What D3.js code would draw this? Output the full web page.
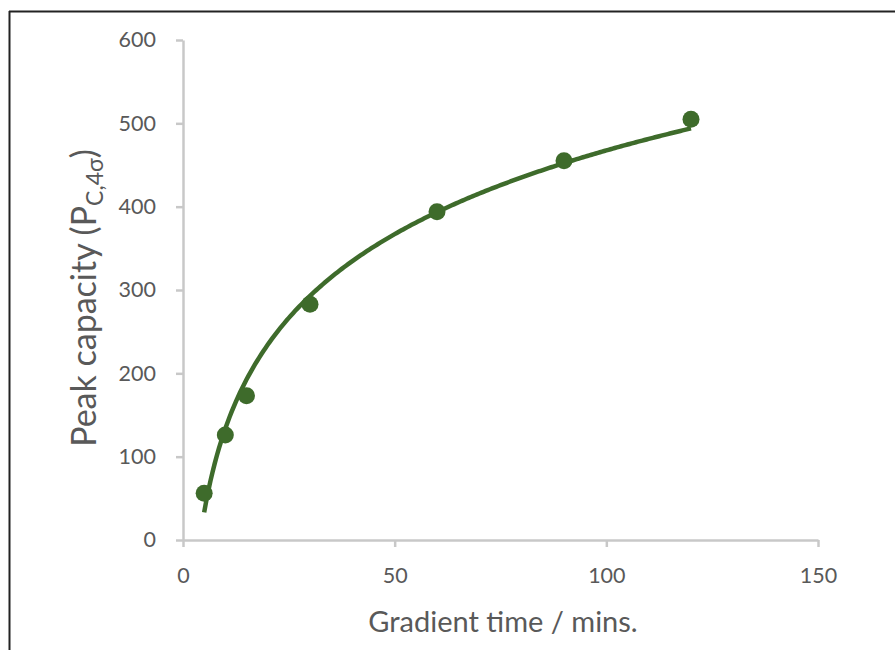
<!DOCTYPE html>
<html>
<head>
<meta charset="utf-8">
<script src="https://cdn.jsdelivr.net/npm/d3@7"></script>
<style>
    body { margin: 0; background: #fff; }
    text { font-family: Lato, "Open Sans", sans-serif; fill: #595959; }
</style>
</head>
<body>
<div id="chart"></div>
<script>

// data
let gradientTimes = [5, 10, 15, 30, 60, 90, 120];
let peakCapacity = [56, 126, 173, 283, 394, 455, 505];
let xTicks = [0, 50, 100, 150];
let yTicks = [0, 100, 200, 300, 400, 500, 600];

let width = 895, height = 650;
let margin = {top: 40, right: 77, bottom: 110, left: 183};

let svg = d3.select("#chart").append("svg")
    .attr("width", width)
    .attr("height", height);

// frame lines (top + left only)
svg.append("line")
    .attr("x1", 9).attr("x2", width).attr("y1", 11.5).attr("y2", 11.5)
    .attr("stroke", "#222").attr("stroke-width", 2);
svg.append("line")
    .attr("x1", 9.5).attr("x2", 9.5).attr("y1", 11).attr("y2", height)
    .attr("stroke", "#222").attr("stroke-width", 2);

let x = d3.scaleLinear().domain([0, 150]).range([margin.left, width - margin.right]);
let y = d3.scaleLinear().domain([0, 600]).range([height - margin.bottom, margin.top]);

// axes
let xAxis = svg.append("g")
    .attr("transform", `translate(0, ${y(0)})`)
    .call(d3.axisBottom(x).tickValues(xTicks).tickSize(7).tickPadding(21).tickSizeOuter(0));

let yAxis = svg.append("g")
    .attr("transform", `translate(${x(0)}, 0)`)
    .call(d3.axisLeft(y).tickValues(yTicks).tickSize(7).tickPadding(20).tickSizeOuter(0));

[xAxis, yAxis].forEach(g => {
    g.select(".domain").attr("stroke", "#c8c8c8").attr("stroke-width", 2.5);
    g.selectAll(".tick line").attr("stroke", "#c8c8c8").attr("stroke-width", 2.5);
    g.selectAll(".tick text")
        .style("font-family", "Lato, 'Open Sans', sans-serif")
        .style("font-size", "21.5px")
        .attr("fill", "#595959");
});

// logarithmic trendline, least squares fit on ln(x)
let lx = gradientTimes.map(d => Math.log(d));
let mx = d3.mean(lx), my = d3.mean(peakCapacity);
let sxy = d3.sum(lx, (d, i) => (d - mx) * (peakCapacity[i] - my));
let sxx = d3.sum(lx, d => (d - mx) * (d - mx));
let slope = sxy / sxx, intercept = my - slope * mx;

let trendX = d3.range(gradientTimes[0], gradientTimes[gradientTimes.length - 1] + 0.01, 0.5);
let line = d3.line()
    .x(d => x(d))
    .y(d => y(slope * Math.log(d) + intercept));

let green = "#3e6b2b";

svg.append("path")
    .datum(trendX)
    .attr("d", line)
    .attr("fill", "none")
    .attr("stroke", green)
    .attr("stroke-width", 4.5);

svg.selectAll(".pt")
    .data(gradientTimes)
    .enter().append("circle")
    .attr("class", "pt")
    .attr("cx", d => x(d))
    .attr("cy", (d, i) => y(peakCapacity[i]))
    .attr("r", 8.5)
    .attr("fill", green);

// axis titles
svg.append("text")
    .attr("x", 503)
    .attr("y", 632)
    .attr("text-anchor", "middle")
    .style("font-size", "29px")
    .text("Gradient time / mins.");

let yTitle = svg.append("text")
    .attr("transform", `translate(96, 298) rotate(-90)`)
    .attr("text-anchor", "middle")
    .style("font-size", "34px");
yTitle.append("tspan").text("Peak capacity (P");
yTitle.append("tspan").attr("dy", 7).style("font-size", "23px").text("C,4σ");
yTitle.append("tspan").attr("dy", -7).text(")");

</script>
</body>
</html>
